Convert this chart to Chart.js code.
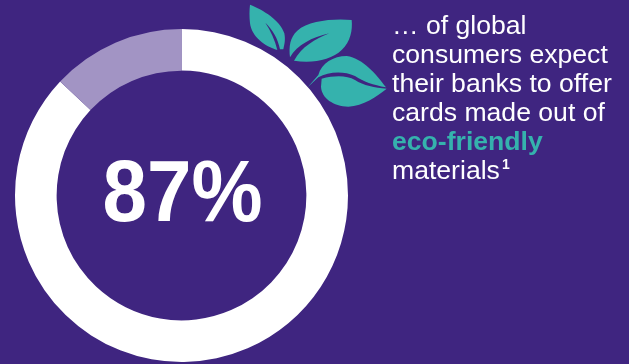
<!DOCTYPE html>
<html>
<head>
<meta charset="utf-8">
<title>Eco-friendly cards</title>
<script src="https://cdn.jsdelivr.net/npm/chart.js@4"></script>
<style>
  html, body { margin: 0; padding: 0; background: #3f2580; overflow: hidden; }
  #wrap { position: relative; width: 629px; height: 364px; }
  #donut { position: absolute; left: 0; top: 0; }
  #note {
    position: absolute; left: 392px; top: 11px; margin: 0;
    font: 26.6px/29px "Liberation Sans", Arial, sans-serif;
    color: #ffffff; white-space: nowrap;
  }
  #note b { color: #35b2ad; }
  #note span { font-size: 14px; font-weight: bold; line-height: 0; position: relative; top: -10px; margin-left: 2px; }
</style>
</head>
<body>
<div id="wrap">
  <canvas id="donut" width="629" height="364"></canvas>
  <p id="note">… of global<br>consumers expect<br>their banks to offer<br>cards made out of<br><b>eco-friendly</b><br>materials<span>1</span></p>
</div>
<script>
const categories = ["Expect eco-friendly cards", "Other"];
const shares = [87, 13];
const sliceColors = ["#ffffff", "#a294c4"];

// Big number in the middle of the ring
const centerLabel = {
  id: "centerLabel",
  afterDatasetsDraw(chart) {
    const arc = chart.getDatasetMeta(0).data[0];
    const ctx = chart.ctx;
    ctx.save();
    ctx.fillStyle = "#ffffff";
    ctx.font = 'bold 87px "Liberation Sans", Arial, sans-serif';
    ctx.textAlign = "center";
    ctx.textBaseline = "alphabetic";
    ctx.fillText(shares[0] + "%", arc.x + 1, 221, 160);
    ctx.restore();
  },
};

// Three leaves above the ring, the veins are gaps in the outlines
const leafShapes = [
  "M30 14 C70 30 120 60 133 100 C137 120 133 135 130 148 L120 148 C114 115 98 90 76 68 C92 92 105 120 112 150 C75 140 35 110 30 70 C28 50 28 30 30 14 Z",
  "M335 60 C280 55 205 62 172 92 C150 112 146 140 150 172 C172 135 215 112 268 100 C225 118 185 140 162 182 C215 192 275 180 305 150 C332 125 338 90 335 60 Z",
  "M203 262 L235 225 C245 190 280 168 320 168 C370 175 410 225 438 262 C400 255 370 245 345 228 C310 212 265 215 235 232 Z",
  "M245 236 C285 226 320 226 345 240 C370 256 405 264 440 266 C410 290 370 318 325 320 C280 318 245 295 243 260 Z",
];

const leaves = {
  id: "leaves",
  afterDraw(chart) {
    const ctx = chart.ctx;
    ctx.save();
    ctx.translate(240, 0);
    ctx.scale(1 / 3, 1 / 3);
    ctx.fillStyle = "#35b2ad";
    leafShapes.forEach((shape) => ctx.fill(new Path2D(shape)));
    ctx.restore();
  },
};

new Chart(document.getElementById("donut"), {
  type: "doughnut",
  data: {
    labels: categories,
    datasets: [
      {
        data: shares,
        backgroundColor: sliceColors,
        borderWidth: 0,
      },
    ],
  },
  options: {
    responsive: false,
    animation: false,
    cutout: "75%",
    layout: { padding: { left: 15, top: 29, right: 281, bottom: 2 } },
    plugins: {
      legend: { display: false },
      tooltip: { enabled: false },
    },
  },
  plugins: [centerLabel, leaves],
});
</script>
</body>
</html>
